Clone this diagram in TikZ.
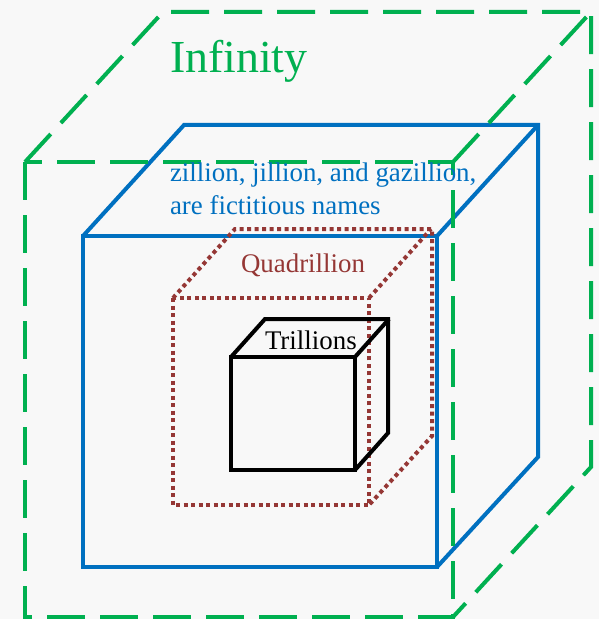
\documentclass[tikz,border=0pt]{standalone}
\usepackage{fontspec}
\setmainfont{Liberation Serif}
\usepackage{tikz}
\usetikzlibrary{calc}
\definecolor{nb-back}{HTML}{F8F8F8}
\definecolor{nb-infinity}{HTML}{00B050}
\definecolor{nb-fiction}{HTML}{0070C0}
\definecolor{nb-quad}{HTML}{953735}
\definecolor{nb-trill}{HTML}{000000}
\begin{document}
\begin{tikzpicture}[x=1bp, y=-1bp, line width=4bp,
    infinitybox/.style={nb-infinity, dash pattern=on 38bp off 15bp},
    fictionbox/.style={nb-fiction},
    quadbox/.style={nb-quad, dash pattern=on 4bp off 3.5bp},
    trillbox/.style={nb-trill},
    lbl/.style={inner sep=0pt, anchor=base west, font=\fontsize{27}{33}\selectfont}]
        \fill[nb-back] (0,0) rectangle (599,619);
        \useasboundingbox (0,0) rectangle (599,619);
        % fictitious names (blue, solid)
        \draw[fictionbox] (83,236) rectangle (437,567);
        \draw[fictionbox] (83,236) -- ++(101,-111) -- ++(354,0) -- ++(0,332) -- (437,567);
        \draw[fictionbox] (437,236) -- ++(101,-111);
        % quadrillion (dotted)
        \draw[quadbox] (173,298) rectangle (369,505);
        \draw[quadbox] (173,298) -- ++(62,-69) -- ++(197,0) -- ++(0,207) -- (369,505);
        \draw[quadbox] (369,298) -- ++(62,-69);
        % trillions (black)
        \draw[trillbox] (231,357) rectangle (355,470);
        \draw[trillbox] (231,357) -- ++(34,-38) -- ++(123,0) -- ++(0,114) -- (355,470);
        \draw[trillbox] (355,357) -- ++(34,-38);
        % infinity (green, dashed)
        \draw[infinitybox] (25,162) rectangle (453,617);
        \draw[infinitybox] (25,162) -- ++(138,-150) -- ++(428,0) -- ++(0,455) -- (453,617);
        \draw[infinitybox] (453,162) -- ++(138,-150);
        % labels
        \node[lbl, nb-infinity, font=\fontsize{46}{50}\selectfont] (infinity) at (168,73) {Infinity};
        \node[lbl, nb-fiction, align=left] (fiction) at (168,214) {zillion, jillion, and gazillion,\\are fictitious names};
        \node[lbl, nb-quad] (quad) at (239,272) {Quadrillion};
        \node[lbl, nb-trill] (trill) at (263,349) {Trillions};
    \end{tikzpicture}
\end{document}
